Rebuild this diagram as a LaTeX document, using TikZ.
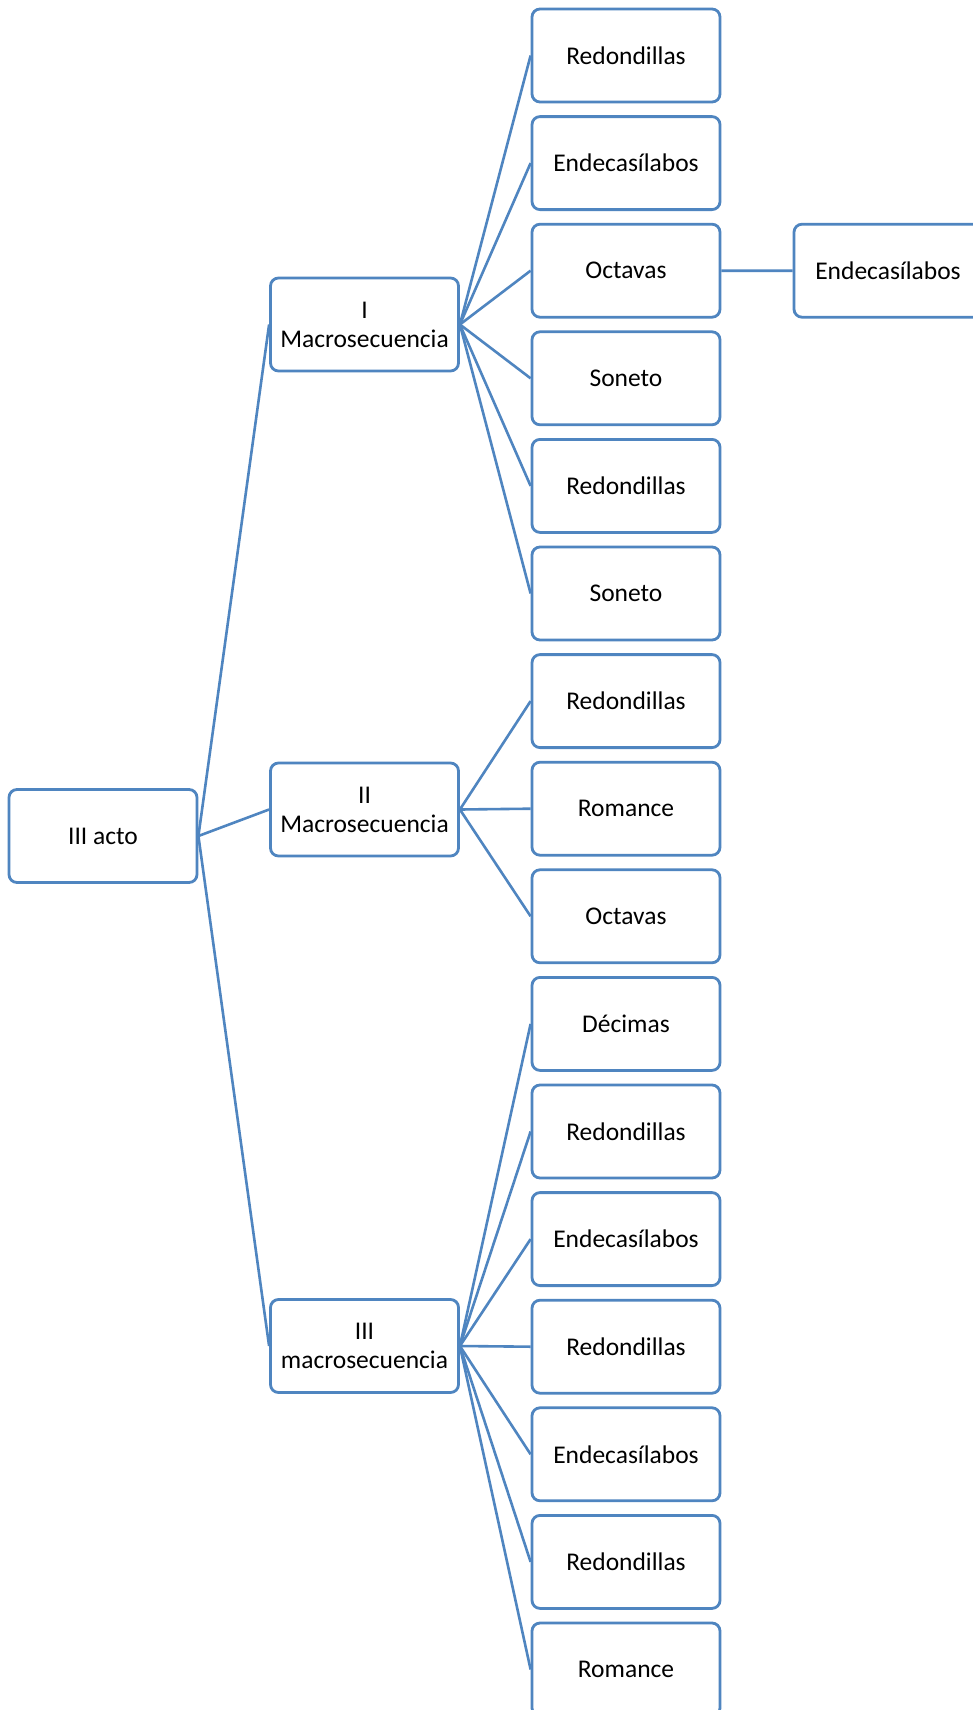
\documentclass[tikz,border=0pt]{standalone}
\usepackage{fontspec}
\setmainfont{Carlito}
\definecolor{acc}{HTML}{4F85C0}
\begin{document}
\begin{tikzpicture}[x=1pt,y=-1pt,
  box/.style={draw=acc, line width=2.8pt, rounded corners=8pt, minimum width=188pt,
    minimum height=93pt, inner sep=2pt, align=center,
    font=\fontsize{25.5}{29}\selectfont},
  link/.style={draw=acc, line width=2.6pt}]
\clip (0,0) rectangle (973,1710);
\fill[white] (0,0) rectangle (973,1710);
\node[box] (root) at (103,836) {III acto};
\node[box] (m1) at (364.5,324.5) {I\\Macrosecuencia};
\node[box] (m2) at (364.5,809.5) {II\\Macrosecuencia};
\node[box] (m3) at (364.5,1346) {III\\macrosecuencia};
\foreach \i/\t in {0/Redondillas,1/Endecasílabos,2/Octavas,3/Soneto,4/Redondillas,5/Soneto,
  6/Redondillas,7/Romance,8/Octavas,9/Décimas,10/Redondillas,11/Endecasílabos,
  12/Redondillas,13/Endecasílabos,14/Redondillas,15/Romance}
  \node[box] (l\i) at (626,{55.5+107.6*\i}) {\t};
\node[box] (r1) at (888,270.7) {Endecasílabos};
\foreach \m in {m1,m2,m3} \draw[link] (root.east) -- (\m.west);
\foreach \i in {0,...,5} \draw[link] (m1.east) -- (l\i.west);
\foreach \i in {6,7,8} \draw[link] (m2.east) -- (l\i.west);
\foreach \i in {9,...,15} \draw[link] (m3.east) -- (l\i.west);
\draw[link] (l2.east) -- (r1.west);
\end{tikzpicture}
\end{document}
